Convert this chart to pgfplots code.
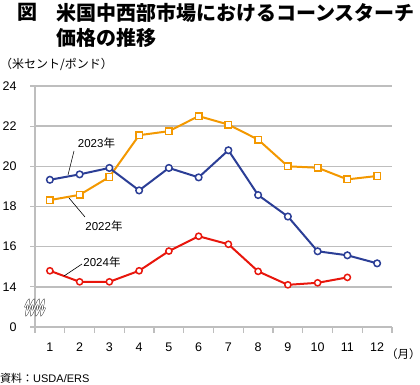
\documentclass[border=0pt]{standalone}
\usepackage{fontspec}
\setmainfont{Liberation Sans}
\newfontfamily\cjk{Noto Sans CJK JP}
\usepackage{pgfplots}
\pgfplotsset{compat=1.18}
\definecolor{cblue}{RGB}{43,62,150}
\definecolor{corange}{RGB}{243,152,0}
\definecolor{cred}{RGB}{232,22,12}
\definecolor{cgrid}{RGB}{190,190,190}
\begin{document}
\begin{tikzpicture}
\path[use as bounding box] (0pt,0pt) rectangle (420pt,385pt);
\begin{axis}[
  at={(35pt,58pt)}, anchor=south west,
  scale only axis, width=357pt, height=241pt,
  xmin=0.5, xmax=12.5, ymin=12, ymax=24,
  axis lines=left,
  axis line style={-, draw=cgrid, line width=1.2pt},
  xtick={1,...,12},
  minor xtick={0.5,1.5,...,12.5},
  major x tick style={draw=none},
  minor x tick style={draw=cgrid, line width=1.2pt},
  y tick style={draw=cgrid, line width=1.2pt},
  tick align=outside,
  major tick length=5pt, minor tick length=6pt,
  ytick={12,14,16,18,20,22,24},
  yticklabels={0,14,16,18,20,22,24},
  ymajorgrids,
  grid style={cgrid, line width=1.5pt},
  ticklabel style={font=\fontsize{12.5}{14}\selectfont},
  /pgf/number format/assume math mode=true,
  xticklabel style={yshift=-7pt},
  yticklabel style={xshift=-10pt},
  clip=false,
]
\addplot[corange, line width=2pt, mark=square*, mark size=3.3pt,
  mark options={fill=white, line width=1.5pt}] coordinates {
 (1,18.32) (2,18.58) (3,19.47) (4,21.55) (5,21.75) (6,22.5)
 (7,22.08) (8,21.33) (9,20.0) (10,19.93) (11,19.35) (12,19.52)};
\addplot[cblue, line width=2pt, mark=*, mark size=3.3pt,
  mark options={fill=white, line width=1.5pt}] coordinates {
 (1,19.33) (2,19.6) (3,19.92) (4,18.8) (5,19.92) (6,19.45)
 (7,20.8) (8,18.57) (9,17.5) (10,15.77) (11,15.57) (12,15.17)};
\addplot[cred, line width=2pt, mark=*, mark size=3.1pt,
  mark options={fill=white, line width=1.5pt}] coordinates {
 (1,14.8) (2,14.25) (3,14.25) (4,14.8) (5,15.78) (6,16.52)
 (7,16.12) (8,14.77) (9,14.1) (10,14.2) (11,14.47)};
\end{axis}
% axis break symbol
\begin{scope}[shift={(35pt,77.5pt)}, xslant=0.35]
\draw[black!70, line width=0.5pt, double=white, double distance=1.1pt]
  (-10pt,0pt) sin (-8.75pt,7pt) cos (-7.5pt,0pt) sin (-6.25pt,-7pt) cos (-5pt,0pt)
  sin (-3.75pt,7pt) cos (-2.5pt,0pt) sin (-1.25pt,-7pt) cos (0pt,0pt)
  sin (1.25pt,7pt) cos (2.5pt,0pt) sin (3.75pt,-7pt) cos (5pt,0pt)
  sin (6.25pt,7pt) cos (7.5pt,0pt) sin (8.75pt,-7pt) cos (10pt,0pt);
\end{scope}
% series labels
\node[font=\fontsize{11.5}{13}\selectfont, inner sep=0pt] at (96.5pt,242pt) {2023\cjk 年};
\node[font=\fontsize{11.5}{13}\selectfont, inner sep=0pt] at (104pt,159pt) {2022\cjk 年};
\node[font=\fontsize{11.5}{13}\selectfont, inner sep=0pt] at (102pt,123pt) {2024\cjk 年};
\draw[black, line width=0.6pt] (74pt,234pt) -- (68pt,210pt);
\draw[black, line width=0.6pt] (69pt,187pt) -- (85pt,168pt);
\draw[black, line width=0.6pt] (82pt,121pt) -- (64pt,109pt);
% titles
\node[anchor=west, inner sep=0pt, font=\cjk\bfseries\fontsize{20}{22}\selectfont] at (17pt,372.5pt) {図};
\node[anchor=west, inner sep=0pt, font=\cjk\bfseries\fontsize{20}{22}\selectfont] at (56pt,372.5pt) {米国中西部市場におけるコーンスターチ};
\node[anchor=west, inner sep=0pt, font=\cjk\bfseries\fontsize{20}{22}\selectfont] at (56pt,347.5pt) {価格の推移};
\node[anchor=west, inner sep=0pt, font=\cjk\fontsize{12}{14}\selectfont] at (0pt,321pt) {（米セント/ポンド）};
\node[anchor=west, inner sep=0pt, font=\cjk\fontsize{11.5}{13}\selectfont] at (386pt,31pt) {（月）};
\node[anchor=west, inner sep=0pt, font=\fontsize{11}{13}\selectfont] at (0pt,7pt) {{\cjk 資料：}USDA/ERS};
\end{tikzpicture}
\end{document}
